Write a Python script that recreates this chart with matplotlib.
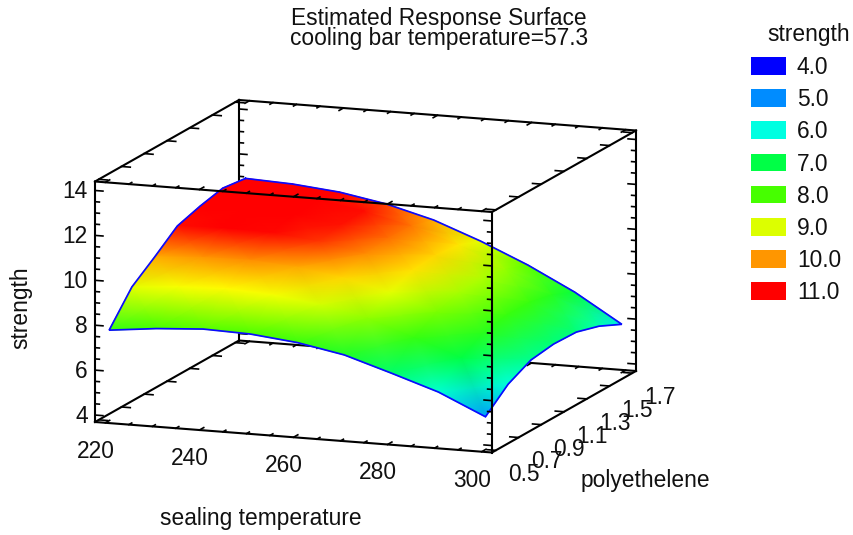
import numpy as np
import matplotlib
matplotlib.use("Agg")
import matplotlib.pyplot as plt
from matplotlib.colors import LinearSegmentedColormap, Normalize
from matplotlib.patches import Rectangle

plt.rcParams['font.family'] = ['Liberation Sans', 'DejaVu Sans']

sealing = [220, 230, 240, 250, 260, 270, 280, 290, 300]
poly = [0.5, 0.7, 0.9, 1.1, 1.3, 1.5, 1.7]
# one row per polyethelene value, one column per sealing temperature
strength_05 = [7.72, 7.95, 8.09, 8.03, 7.81, 7.42, 6.77, 6.09, 5.15]
strength_07 = [9.07, 9.24, 9.32, 9.20, 8.93, 8.48, 7.77, 7.03, 6.03]
strength_09 = [9.83, 9.97, 10.02, 9.87, 9.56, 9.07, 8.33, 7.56, 6.53]
strength_11 = [10.64, 10.70, 10.66, 10.43, 10.03, 9.47, 8.64, 7.79, 6.67]
strength_13 = [10.95, 10.96, 10.88, 10.60, 10.17, 9.56, 8.69, 7.79, 6.63]
strength_15 = [11.18, 11.12, 10.98, 10.63, 10.13, 9.45, 8.52, 7.55, 6.32]
strength_17 = [11.04, 10.95, 10.75, 10.38, 9.83, 9.05, 8.15, 7.10, 5.83]

levels = [4.0, 5.0, 6.0, 7.0, 8.0, 9.0, 10.0, 11.0]
level_colors = ['#0000ff', '#008cff', '#00ffe1', '#00ff46',
                '#46ff00', '#dcff00', '#ff9600', '#ff0000']
# the surface itself runs through pure yellow and is fully red a bit below 11
surface_levels = [4.0, 5.0, 6.0, 7.0, 8.0, 9.0, 9.3, 10.0, 10.7, 11.0]
surface_colors = ['#0000ff', '#008cff', '#00ffe1', '#00ff46',
                  '#46ff00', '#dcff00', '#ffff00', '#ff9600', '#ff0000', '#ff0000']

x_major = [220, 240, 260, 280, 300]
x_minor = [225, 230, 235, 245, 250, 255, 265, 270, 275, 285, 290, 295]
y_major = [0.5, 0.7, 0.9, 1.1, 1.3, 1.5, 1.7]
z_major = [4, 6, 8, 10, 12, 14]
z_minor = [4.5, 5, 5.5, 6.5, 7, 7.5, 8.5, 9, 9.5, 10.5, 11, 11.5, 12.5, 13, 13.5]

XLIM = (217.8, 302.2)
YLIM = (0.4665, 1.7335)
ZLIM = (3.69, 14.4)

# ——— Oblique projection of the box onto the page (pixels) ———
def project(x, y, z):
    u = (np.asarray(x, float) - XLIM[0]) / (XLIM[1] - XLIM[0])
    v = (np.asarray(y, float) - YLIM[0]) / (YLIM[1] - YLIM[0])
    w = (np.asarray(z, float) - ZLIM[0]) / (ZLIM[1] - ZLIM[0])
    return 95 + 397*u + 144*v, 422 + 30.5*u - 81.5*v - 240.5*w

def line3d(ax, x, y, z, **kw):
    px, py = project(x, y, z)
    ax.plot(px, py, solid_capstyle='projecting', **kw)

fig = plt.figure(figsize=(8.54, 5.35), dpi=100)
ax = fig.add_axes([0, 0, 1, 1])
ax.set_xlim(0, 854)
ax.set_ylim(535, 0)
ax.axis('off')

BOX = dict(color='black', lw=1.5)
TICK = dict(color='black', lw=1.2)
x0, x1 = XLIM
y0, y1 = YLIM
z0, z1 = ZLIM
dx, dy, dz = x1 - x0, y1 - y0, z1 - z0

# edges behind the surface
line3d(ax, [x0, x1], [y1, y1], [z1, z1], zorder=1, **BOX)
line3d(ax, [x0, x1], [y1, y1], [z0, z0], zorder=1, **BOX)
line3d(ax, [x0, x0], [y0, y1], [z0, z0], zorder=1, **BOX)
line3d(ax, [x0, x0], [y0, y1], [z1, z1], zorder=1, **BOX)
line3d(ax, [x0, x0], [y1, y1], [z0, z1], zorder=1, **BOX)
line3d(ax, [x1, x1], [y1, y1], [z0, z1], zorder=1, **BOX)

# edges in front of it
front = 6
line3d(ax, [x0, x1], [y0, y0], [z1, z1], zorder=front, **BOX)
line3d(ax, [x0, x1], [y0, y0], [z0, z0], zorder=front, **BOX)
line3d(ax, [x1, x1], [y0, y1], [z0, z0], zorder=front, **BOX)
line3d(ax, [x1, x1], [y0, y1], [z1, z1], zorder=front, **BOX)
line3d(ax, [x0, x0], [y0, y0], [z0, z1], zorder=front, **BOX)
line3d(ax, [x1, x1], [y0, y0], [z0, z1], zorder=front, **BOX)

# ticks on the box edges
for vals, frac in ((x_major, 0.030), (x_minor, 0.020)):
    for t in vals:
        for zz in (z0, z1):
            line3d(ax, [t, t], [y0, y0 + frac*dy], [zz, zz], zorder=front, **TICK)
            line3d(ax, [t, t], [y1, y1 - frac*dy], [zz, zz], zorder=1, **TICK)

for t in y_major:
    for zz in (z0, z1):
        line3d(ax, [x0, x0 + 0.022*dx], [t, t], [zz, zz], zorder=1, **TICK)
        line3d(ax, [x1, x1 - 0.022*dx], [t, t], [zz, zz], zorder=front, **TICK)

for vals, frac in ((z_major, 0.020), (z_minor, 0.011)):
    for t in vals:
        line3d(ax, [x0, x0 + frac*dx], [y0, y0], [t, t], zorder=front, **TICK)
        line3d(ax, [x1, x1 - frac*dx], [y0, y0], [t, t], zorder=front, **TICK)
        line3d(ax, [x0, x0 + frac*dx], [y1, y1], [t, t], zorder=1, **TICK)
        line3d(ax, [x1, x1 - frac*dx], [y1, y1], [t, t], zorder=1, **TICK)

# surface, back rows first so nearer ones paint over them
Z = np.array([strength_17, strength_15, strength_13, strength_11,
              strength_09, strength_07, strength_05])
X, Y = np.meshgrid(sealing, poly[::-1])
PX, PY = project(X, Y, Z)
stops = [(l - surface_levels[0]) / (surface_levels[-1] - surface_levels[0]) for l in surface_levels]
cmap = LinearSegmentedColormap.from_list('strength', list(zip(stops, surface_colors)), N=256)
ax.pcolormesh(PX, PY, Z, shading='gouraud', cmap=cmap,
              norm=Normalize(surface_levels[0], surface_levels[-1]), zorder=3)

# surface outline
ox = np.r_[X[0, :], X[:, -1], X[-1, ::-1], X[::-1, 0]]
oy = np.r_[Y[0, :], Y[:, -1], Y[-1, ::-1], Y[::-1, 0]]
oz = np.r_[Z[0, :], Z[:, -1], Z[-1, ::-1], Z[::-1, 0]]
px, py = project(ox, oy, oz)
ax.plot(px, py, color='#0a0aff', lw=1.25, solid_joinstyle='miter', zorder=4)

# ——— Text ———
TXT = '#111111'
FS = 16.4
for t in z_major:
    px, py = project(x0, y0, t)
    ax.text(px - 7, py + 8, str(t), ha='right', va='baseline', fontsize=FS, color=TXT)
for t in x_major:
    px, py = project(t, y0, z0)
    ax.text(px - 10, py + 35, str(t), ha='center', va='baseline', fontsize=FS, color=TXT)
for t in y_major:
    px, py = project(x1, t, z0)
    ax.text(px + 28, py + 31, f'{t:.1f}', ha='center', va='baseline', fontsize=FS, color=TXT)

ax.text(439, 25, 'Estimated Response Surface', ha='center', va='baseline', fontsize=FS, color=TXT)
ax.text(439, 45, 'cooling bar temperature=57.3', ha='center', va='baseline', fontsize=FS, color=TXT)
ax.text(261, 525, 'sealing temperature', ha='center', va='baseline', fontsize=FS, color=TXT)
ax.text(645, 487, 'polyethelene', ha='center', va='baseline', fontsize=FS, color=TXT)
ax.text(27, 308, 'strength', ha='center', va='baseline', rotation=90,
        rotation_mode='anchor', fontsize=FS, color=TXT)

# ——— Legend ———
ax.text(809, 41, 'strength', ha='center', va='baseline', fontsize=FS, color=TXT)
for i, (l, c) in enumerate(zip(levels, level_colors)):
    top = 57 + i*32.2
    ax.add_patch(Rectangle((751, top), 35, 17.5, facecolor=c, edgecolor='none', zorder=2))
    ax.text(797, top + 17, f'{l:.1f}', ha='left', va='baseline', fontsize=FS, color=TXT)

fig.savefig('out.png', dpi=100)
